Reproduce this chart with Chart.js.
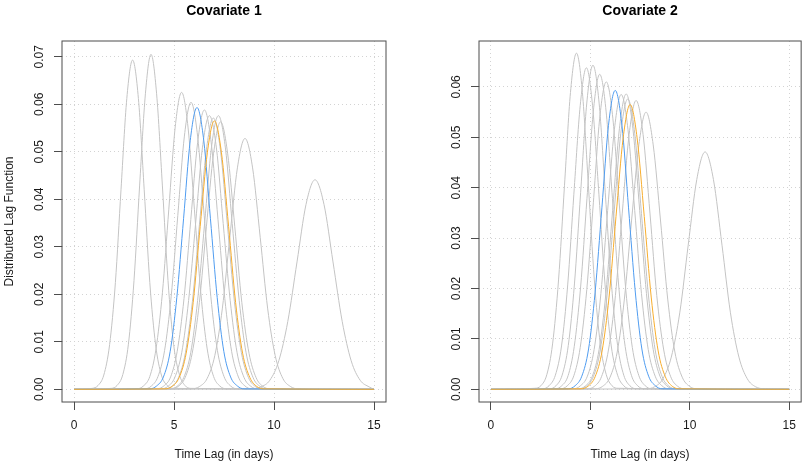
<!DOCTYPE html>
<html>
<head>
<meta charset="utf-8">
<script src="https://cdn.jsdelivr.net/npm/chart.js@4"></script>
<style>
  body { margin: 0; background: #fff; }
  canvas { position: absolute; top: 0; }
  #cov1 { left: 0; }
  #cov2 { left: 402px; }
</style>
</head>
<body>
<canvas id="cov1" width="402" height="465"></canvas>
<canvas id="cov2" width="402" height="465"></canvas>
<script>
// lag range every curve is drawn over (flat at zero outside the bump)
var lagLimits = [0, 15];
var xTicks = [0, 5, 10, 15];

// Covariate 1 - grey curves (time lag in days / lag weight)
var cov1GrayDays = [
    [0.91, 1.20, 1.49, 1.78, 2.07, 2.35, 2.64, 2.93, 3.22, 3.51, 3.79, 4.08, 4.37, 4.66, 4.95],
    [1.87, 2.15, 2.44, 2.72, 3.00, 3.28, 3.57, 3.85, 4.13, 4.42, 4.70, 4.98, 5.27, 5.55, 5.83],
    [3.15, 3.47, 3.79, 4.10, 4.42, 4.74, 5.06, 5.38, 5.70, 6.02, 6.34, 6.66, 6.98, 7.29, 7.61],
    [3.54, 3.87, 4.20, 4.53, 4.86, 5.19, 5.52, 5.85, 6.18, 6.51, 6.84, 7.17, 7.50, 7.83, 8.16],
    [4.15, 4.49, 4.83, 5.16, 5.50, 5.84, 6.18, 6.52, 6.86, 7.20, 7.54, 7.88, 8.22, 8.55, 8.89],
    [4.35, 4.69, 5.04, 5.39, 5.73, 6.08, 6.42, 6.77, 7.12, 7.46, 7.81, 8.15, 8.50, 8.85, 9.19],
    [4.53, 4.88, 5.23, 5.57, 5.92, 6.27, 6.62, 6.97, 7.32, 7.67, 8.02, 8.37, 8.72, 9.06, 9.41],
    [4.80, 5.14, 5.49, 5.84, 6.18, 6.53, 6.87, 7.22, 7.57, 7.91, 8.26, 8.60, 8.95, 9.30, 9.64],
    [4.85, 5.21, 5.56, 5.91, 6.27, 6.62, 6.98, 7.33, 7.68, 8.04, 8.39, 8.75, 9.10, 9.45, 9.81],
    [5.90, 6.28, 6.66, 7.04, 7.42, 7.79, 8.17, 8.55, 8.93, 9.31, 9.68, 10.06, 10.44, 10.82, 11.20],
    [8.89, 9.34, 9.79, 10.24, 10.69, 11.15, 11.60, 12.05, 12.50, 12.95, 13.41, 13.86, 14.31, 14.76]
];
var cov1GrayValues = [
    [0.0002, 0.0008, 0.0030, 0.0094, 0.0225, 0.0420, 0.0612, 0.0693, 0.0612, 0.0420, 0.0225, 0.0094, 0.0030, 0.0008, 0.0002],
    [0.0002, 0.0008, 0.0031, 0.0095, 0.0229, 0.0428, 0.0622, 0.0705, 0.0622, 0.0428, 0.0229, 0.0095, 0.0031, 0.0008, 0.0002],
    [0.0001, 0.0007, 0.0027, 0.0085, 0.0203, 0.0379, 0.0552, 0.0625, 0.0552, 0.0379, 0.0203, 0.0085, 0.0027, 0.0007, 0.0001],
    [0.0001, 0.0007, 0.0027, 0.0082, 0.0196, 0.0366, 0.0533, 0.0604, 0.0533, 0.0366, 0.0196, 0.0082, 0.0027, 0.0007, 0.0001],
    [0.0001, 0.0007, 0.0026, 0.0080, 0.0191, 0.0357, 0.0519, 0.0588, 0.0519, 0.0357, 0.0191, 0.0080, 0.0026, 0.0007, 0.0001],
    [0.0001, 0.0006, 0.0025, 0.0078, 0.0187, 0.0349, 0.0508, 0.0576, 0.0508, 0.0349, 0.0187, 0.0078, 0.0025, 0.0006, 0.0001],
    [0.0001, 0.0006, 0.0025, 0.0077, 0.0185, 0.0346, 0.0504, 0.0571, 0.0504, 0.0346, 0.0185, 0.0077, 0.0025, 0.0006, 0.0001],
    [0.0001, 0.0006, 0.0025, 0.0078, 0.0187, 0.0349, 0.0508, 0.0576, 0.0508, 0.0349, 0.0187, 0.0078, 0.0025, 0.0006, 0.0001],
    [0.0001, 0.0006, 0.0025, 0.0076, 0.0183, 0.0342, 0.0497, 0.0563, 0.0497, 0.0342, 0.0183, 0.0076, 0.0025, 0.0006, 0.0001],
    [0.0001, 0.0006, 0.0023, 0.0071, 0.0171, 0.0320, 0.0466, 0.0528, 0.0466, 0.0320, 0.0171, 0.0071, 0.0023, 0.0006, 0.0001],
    [0.0001, 0.0005, 0.0019, 0.0060, 0.0143, 0.0268, 0.0389, 0.0441, 0.0389, 0.0268, 0.0143, 0.0060, 0.0019, 0.0005]
];
var cov1BlueDays = [3.80, 4.13, 4.47, 4.81, 5.14, 5.48, 5.81, 6.15, 6.49, 6.82, 7.16, 7.49, 7.83, 8.17, 8.50];
var cov1BlueValues = [0.0001, 0.0007, 0.0026, 0.0080, 0.0193, 0.0360, 0.0523, 0.0593, 0.0523, 0.0360, 0.0193, 0.0080, 0.0026, 0.0007, 0.0001];
var cov1OrangeDays = [4.55, 4.90, 5.26, 5.61, 5.96, 6.31, 6.67, 7.02, 7.37, 7.73, 8.08, 8.43, 8.79, 9.14, 9.49];
var cov1OrangeValues = [0.0001, 0.0006, 0.0025, 0.0076, 0.0183, 0.0343, 0.0499, 0.0565, 0.0499, 0.0343, 0.0183, 0.0076, 0.0025, 0.0006, 0.0001];
var cov1YTicks = [0, 0.01, 0.02, 0.03, 0.04, 0.05, 0.06, 0.07];

// Covariate 2
var cov2GrayDays = [
    [2.21, 2.51, 2.81, 3.10, 3.40, 3.70, 4.00, 4.30, 4.60, 4.90, 5.20, 5.50, 5.80, 6.09, 6.39],
    [2.61, 2.92, 3.24, 3.55, 3.86, 4.17, 4.49, 4.80, 5.11, 5.43, 5.74, 6.05, 6.37, 6.68, 6.99],
    [2.96, 3.27, 3.58, 3.89, 4.20, 4.51, 4.82, 5.13, 5.44, 5.75, 6.06, 6.37, 6.68, 6.99, 7.30],
    [3.24, 3.56, 3.88, 4.19, 4.51, 4.83, 5.15, 5.47, 5.79, 6.11, 6.43, 6.75, 7.07, 7.38, 7.70],
    [3.51, 3.84, 4.17, 4.49, 4.82, 5.15, 5.47, 5.80, 6.13, 6.45, 6.78, 7.11, 7.44, 7.76, 8.09],
    [4.16, 4.50, 4.85, 5.19, 5.53, 5.87, 6.21, 6.55, 6.89, 7.23, 7.57, 7.91, 8.26, 8.60, 8.94],
    [4.42, 4.76, 5.10, 5.44, 5.78, 6.12, 6.46, 6.80, 7.14, 7.48, 7.82, 8.16, 8.50, 8.84, 9.18],
    [4.46, 4.80, 5.15, 5.50, 5.84, 6.19, 6.53, 6.88, 7.23, 7.57, 7.92, 8.26, 8.61, 8.96, 9.30],
    [4.86, 5.21, 5.56, 5.91, 6.26, 6.60, 6.95, 7.30, 7.65, 8.00, 8.34, 8.69, 9.04, 9.39, 9.74],
    [5.26, 5.62, 5.99, 6.35, 6.71, 7.07, 7.44, 7.80, 8.16, 8.53, 8.89, 9.25, 9.62, 9.98, 10.34],
    [7.80, 8.23, 8.65, 9.07, 9.50, 9.92, 10.35, 10.77, 11.19, 11.62, 12.04, 12.47, 12.89, 13.31, 13.74]
];
var cov2GrayValues = [
    [0.0002, 0.0007, 0.0029, 0.0090, 0.0217, 0.0405, 0.0589, 0.0667, 0.0589, 0.0405, 0.0217, 0.0090, 0.0029, 0.0007, 0.0002],
    [0.0001, 0.0007, 0.0028, 0.0086, 0.0207, 0.0387, 0.0563, 0.0638, 0.0563, 0.0387, 0.0207, 0.0086, 0.0028, 0.0007, 0.0001],
    [0.0001, 0.0007, 0.0028, 0.0087, 0.0209, 0.0390, 0.0568, 0.0643, 0.0568, 0.0390, 0.0209, 0.0087, 0.0028, 0.0007, 0.0001],
    [0.0001, 0.0007, 0.0027, 0.0085, 0.0203, 0.0379, 0.0552, 0.0625, 0.0552, 0.0379, 0.0203, 0.0085, 0.0027, 0.0007, 0.0001],
    [0.0001, 0.0007, 0.0027, 0.0083, 0.0198, 0.0370, 0.0538, 0.0610, 0.0538, 0.0370, 0.0198, 0.0083, 0.0027, 0.0007, 0.0001],
    [0.0001, 0.0007, 0.0026, 0.0079, 0.0190, 0.0355, 0.0516, 0.0585, 0.0516, 0.0355, 0.0190, 0.0079, 0.0026, 0.0007, 0.0001],
    [0.0001, 0.0007, 0.0026, 0.0079, 0.0190, 0.0355, 0.0517, 0.0586, 0.0517, 0.0355, 0.0190, 0.0079, 0.0026, 0.0007, 0.0001],
    [0.0001, 0.0006, 0.0025, 0.0078, 0.0187, 0.0349, 0.0508, 0.0576, 0.0508, 0.0349, 0.0187, 0.0078, 0.0025, 0.0006, 0.0001],
    [0.0001, 0.0006, 0.0025, 0.0078, 0.0186, 0.0348, 0.0506, 0.0573, 0.0506, 0.0348, 0.0186, 0.0078, 0.0025, 0.0006, 0.0001],
    [0.0001, 0.0006, 0.0024, 0.0074, 0.0179, 0.0334, 0.0485, 0.0550, 0.0485, 0.0334, 0.0179, 0.0074, 0.0024, 0.0006, 0.0001],
    [0.0001, 0.0005, 0.0021, 0.0064, 0.0153, 0.0286, 0.0416, 0.0471, 0.0416, 0.0286, 0.0153, 0.0064, 0.0021, 0.0005, 0.0001]
];
var cov2BlueDays = [3.90, 4.23, 4.57, 4.91, 5.24, 5.58, 5.91, 6.25, 6.59, 6.92, 7.26, 7.59, 7.93, 8.27, 8.60];
var cov2BlueValues = [0.0001, 0.0007, 0.0026, 0.0080, 0.0193, 0.0360, 0.0523, 0.0593, 0.0523, 0.0360, 0.0193, 0.0080, 0.0026, 0.0007, 0.0001];
var cov2OrangeDays = [4.53, 4.88, 5.24, 5.59, 5.94, 6.29, 6.65, 7.00, 7.35, 7.71, 8.06, 8.41, 8.77, 9.12, 9.47];
var cov2OrangeValues = [0.0001, 0.0006, 0.0025, 0.0076, 0.0183, 0.0343, 0.0499, 0.0565, 0.0499, 0.0343, 0.0183, 0.0076, 0.0025, 0.0006, 0.0001];
var cov2YTicks = [0, 0.01, 0.02, 0.03, 0.04, 0.05, 0.06];

Chart.defaults.font.family = '"Liberation Sans", Arial, Helvetica, sans-serif';
Chart.defaults.font.size = 12;
Chart.defaults.color = '#1a1a1a';

function curvePoints(days, values) {
    var pts = [{x: lagLimits[0], y: 0}];
    for (var i = 0; i < days.length; i++) {
        pts.push({x: days[i], y: values[i]});
    }
    pts.push({x: lagLimits[1], y: 0});
    return pts;
}

function lineSet(days, values, color) {
    return {
        data: curvePoints(days, values),
        borderColor: color,
        borderWidth: 1,
        pointRadius: 0,
        fill: false,
        cubicInterpolationMode: 'monotone'
    };
}

// R style box round the plot region
var plotBox = {
    id: 'plotBox',
    afterDraw: function(chart) {
        var a = chart.chartArea;
        var ctx = chart.ctx;
        ctx.save();
        ctx.strokeStyle = '#4d4d4d';
        ctx.lineWidth = 1;
        ctx.strokeRect(a.left, a.top, a.right - a.left, a.bottom - a.top);
        ctx.restore();
    }
};

function drawPanel(id, title, p) {
    // orange first so it ends up on top, then blue, then the grey ones
    var sets = [
        lineSet(p.orangeDays, p.orangeValues, '#f7ad2d'),
        lineSet(p.blueDays, p.blueValues, '#4f9cf0')
    ];
    for (var i = 0; i < p.grayDays.length; i++) {
        sets.push(lineSet(p.grayDays[i], p.grayValues[i], '#c4c4c4'));
    }

    return new Chart(document.getElementById(id), {
        type: 'line',
        data: { datasets: sets },
        plugins: [plotBox],
        options: {
            responsive: false,
            animation: false,
            layout: { padding: { right: p.padRight } },
            plugins: {
                legend: { display: false },
                tooltip: { enabled: false },
                title: {
                    display: true,
                    text: title,
                    fullSize: false,
                    color: '#000',
                    font: { size: 14, weight: 'bold' },
                    padding: { top: 2.8, bottom: 21.4 }
                }
            },
            scales: {
                x: {
                    type: 'linear',
                    min: -0.6,
                    max: 15.6,
                    afterFit: function(s) { s.height = 63; },
                    afterBuildTicks: function(s) {
                        s.ticks = xTicks.map(function(v) { return {value: v}; });
                    },
                    ticks: { padding: 8, color: '#1a1a1a' },
                    grid: {
                        color: '#d3d3d3',
                        tickColor: '#4d4d4d',
                        tickLength: 8
                    },
                    border: { display: false, dash: [1, 3] },
                    title: {
                        display: true,
                        text: 'Time Lag (in days)',
                        color: '#1a1a1a',
                        padding: { top: 0, bottom: 2.8 }
                    }
                },
                y: {
                    min: p.yMin,
                    max: p.yMax,
                    afterFit: function(s) { s.width = p.yWidth; },
                    afterBuildTicks: function(s) {
                        s.ticks = p.yTicks.map(function(v) { return {value: v}; });
                    },
                    ticks: {
                        padding: 2.3,
                        minRotation: 90,
                        maxRotation: 90,
                        crossAlign: 'center',
                        color: '#1a1a1a',
                        callback: function(v) { return v.toFixed(2); }
                    },
                    grid: {
                        color: '#d3d3d3',
                        tickColor: '#4d4d4d',
                        tickLength: 8
                    },
                    border: { display: false, dash: [1, 3] },
                    title: {
                        display: p.yTitle !== '',
                        text: p.yTitle,
                        color: '#1a1a1a',
                        padding: { top: 2.8, bottom: 0 }
                    }
                }
            }
        }
    });
}

drawPanel('cov1', 'Covariate 1', {
    grayDays: cov1GrayDays, grayValues: cov1GrayValues,
    blueDays: cov1BlueDays, blueValues: cov1BlueValues,
    orangeDays: cov1OrangeDays, orangeValues: cov1OrangeValues,
    yTicks: cov1YTicks, yMin: -0.00267, yMax: 0.07331,
    yTitle: 'Distributed Lag Function', yWidth: 62, padRight: 16
});

drawPanel('cov2', 'Covariate 2', {
    grayDays: cov2GrayDays, grayValues: cov2GrayValues,
    blueDays: cov2BlueDays, blueValues: cov2BlueValues,
    orangeDays: cov2OrangeDays, orangeValues: cov2OrangeValues,
    yTicks: cov2YTicks, yMin: -0.00252, yMax: 0.06911,
    yTitle: '', yWidth: 77, padRight: 1
});
</script>
</body>
</html>
